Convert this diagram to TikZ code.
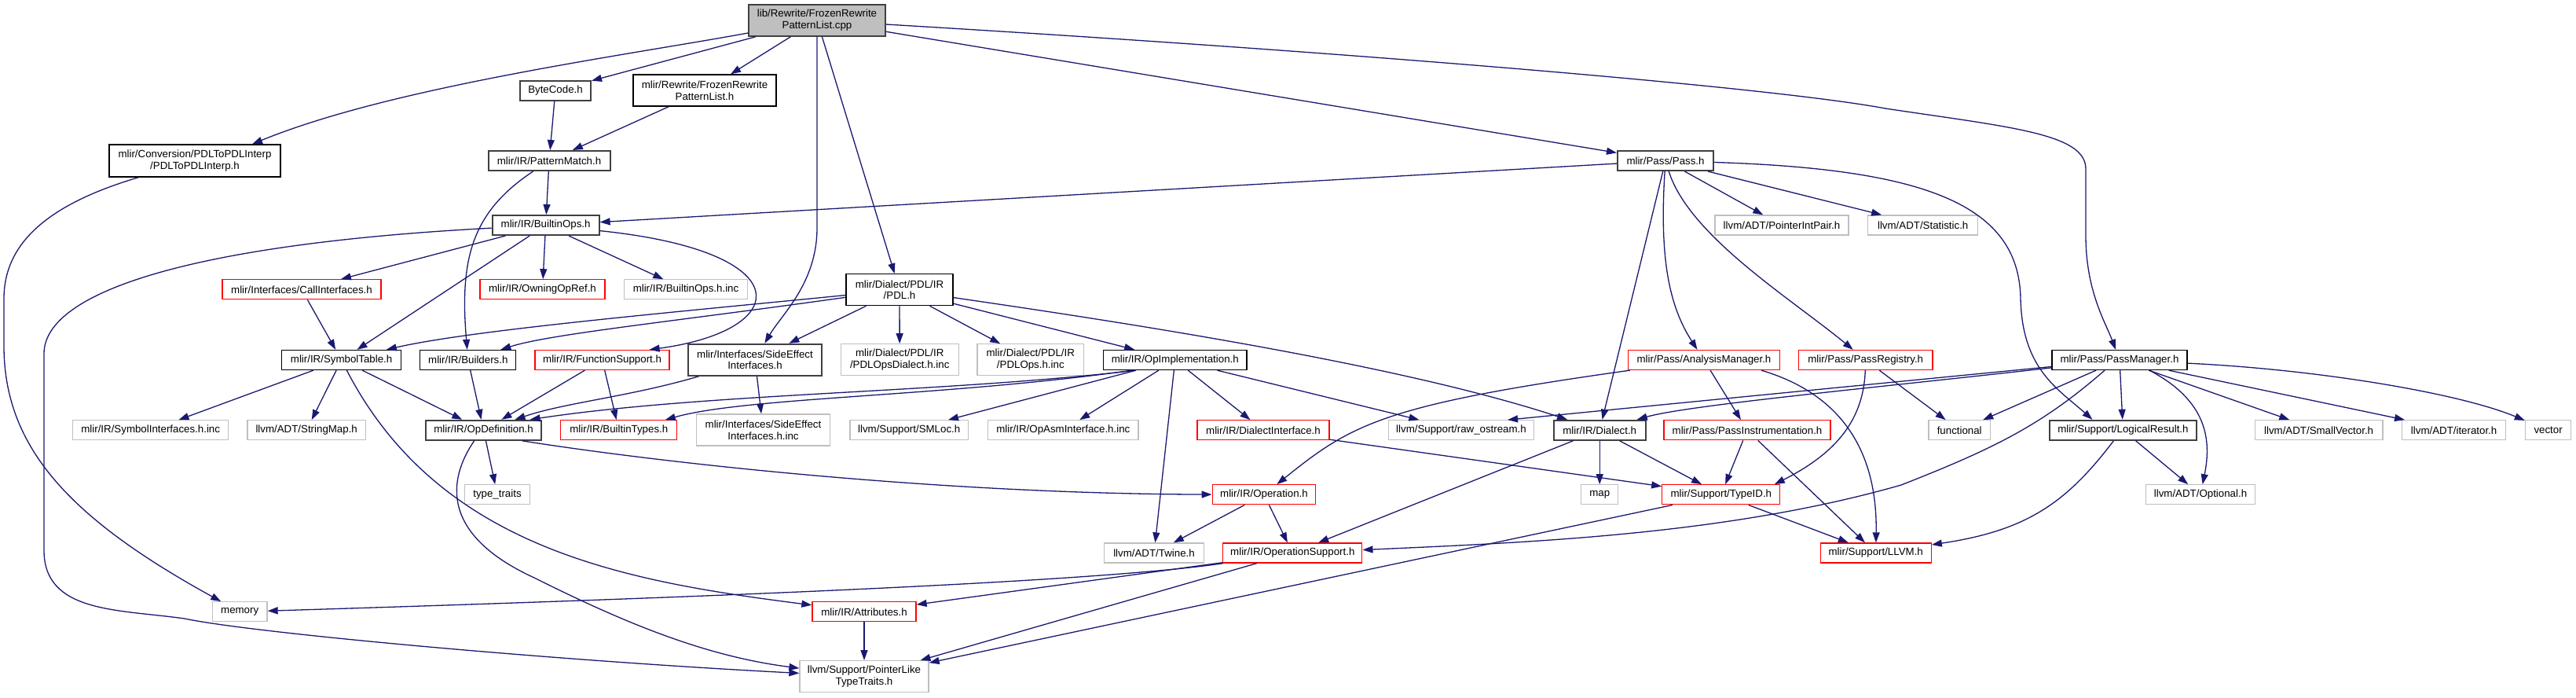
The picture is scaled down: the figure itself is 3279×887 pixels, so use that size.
\documentclass[tikz,border=0pt]{standalone}
\usepackage{fontspec}
\setmainfont{Liberation Sans}
\usetikzlibrary{arrows.meta}
\definecolor{edgec}{HTML}{191970}
\definecolor{gborder}{HTML}{BFBFBF}
\definecolor{rootfill}{HTML}{BFBFBF}
\definecolor{dkb}{HTML}{404040}
\newcommand{\dxfont}{\fontsize{13.3}{14.5}\selectfont}
\tikzset{
  base/.style={draw, rectangle, inner sep=0pt, font=\dxfont, align=center, minimum height=25pt, line width=1.3pt, fill=white, text=black},
  blk/.style={base, draw=black},
  dk/.style={base, draw=dkb, line width=2pt},
  trunc/.style={base, draw=red},
  gry/.style={base, draw=gborder},
  rootn/.style={base, draw=dkb, line width=2pt, fill=rootfill},
  two/.style={minimum height=40pt},
  e/.style={draw=edgec, line width=1.3pt, -{Triangle[length=13pt,width=9pt]}}
}
\begin{document}
\begin{tikzpicture}[x=1pt, y=-1pt]
\useasboundingbox (0,0) rectangle (3279,887);
% nodes
\node[rootn, two, minimum width=174pt] (root) at (1040,25.8) {lib/Rewrite/FrozenRewrite\\PatternList.cpp};
\node[dk, minimum width=90pt] (bytecode) at (707,115) {ByteCode.h};
\node[blk, two, minimum width=182pt] (frozenh) at (897,115) {mlir/Rewrite/FrozenRewrite\\PatternList.h};
\node[blk, minimum height=41pt, minimum width=218pt] (pdlto) at (248,204.5) {mlir/Conversion/PDLToPDLInterp\\/PDLToPDLInterp.h};
\node[dk, minimum width=155pt] (patmatch) at (699,204.5) {mlir/IR/PatternMatch.h};
\node[dk, minimum width=122pt] (pass) at (2120,204.5) {mlir/Pass/Pass.h};
\node[dk, minimum width=136pt] (builtinops) at (694.6,286.5) {mlir/IR/BuiltinOps.h};
\node[gry, minimum width=170pt] (ptrintpair) at (2268,286.5) {llvm/ADT/PointerIntPair.h};
\node[gry, minimum width=140pt] (statistic) at (2447.7,286.5) {llvm/ADT/Statistic.h};
\node[trunc, minimum width=202pt] (callif) at (384,368.3) {mlir/Interfaces/CallInterfaces.h};
\node[trunc, minimum width=159pt] (owning) at (690.5,368.3) {mlir/IR/OwningOpRef.h};
\node[gry, minimum width=157pt] (boinc) at (873,368.3) {mlir/IR/BuiltinOps.h.inc};
\node[blk, two, minimum width=136pt] (pdl) at (1145,368.7) {mlir/Dialect/PDL/IR\\/PDL.h};
\node[blk, minimum width=152pt] (symtab) at (434.6,458) {mlir/IR/SymbolTable.h};
\node[blk, minimum width=122pt] (builders) at (595.8,458) {mlir/IR/Builders.h};
\node[trunc, minimum width=171pt] (funcsupp) at (766.6,458) {mlir/IR/FunctionSupport.h};
\node[dk, two, minimum width=170.5pt] (sideeff) at (961,457.8) {mlir/Interfaces/SideEffect\\Interfaces.h};
\node[gry, two, minimum width=150pt] (pdlopsd) at (1145.2,457.8) {mlir/Dialect/PDL/IR\\/PDLOpsDialect.h.inc};
\node[gry, two, minimum width=135.5pt] (pdlops) at (1311.8,457.8) {mlir/Dialect/PDL/IR\\/PDLOps.h.inc};
\node[blk, minimum width=182.5pt] (opimpl) at (1495.8,458) {mlir/IR/OpImplementation.h};
\node[trunc, minimum width=192.5pt] (analysis) at (2169,458) {mlir/Pass/AnalysisManager.h};
\node[trunc, minimum width=170.7pt] (passreg) at (2374.7,458) {mlir/Pass/PassRegistry.h};
\node[blk, minimum width=172pt] (passmgr) at (2698,458) {mlir/Pass/PassManager.h};
\node[gry, minimum width=198pt] (symif) at (191.7,547.3) {mlir/IR/SymbolInterfaces.h.inc};
\node[gry, minimum width=150.6pt] (strmap) at (390.2,547.3) {llvm/ADT/StringMap.h};
\node[dk, minimum width=147.5pt] (opdef) at (615.6,547.3) {mlir/IR/OpDefinition.h};
\node[trunc, minimum width=148pt] (btypes) at (787.8,547.3) {mlir/IR/BuiltinTypes.h};
\node[gry, two, minimum width=170.5pt] (seinc) at (971.5,547) {mlir/Interfaces/SideEffect\\Interfaces.h.inc};
\node[gry, minimum width=150.5pt] (smloc) at (1157.2,547.3) {llvm/Support/SMLoc.h};
\node[gry, minimum width=191.4pt] (opasm) at (1353.3,547.3) {mlir/IR/OpAsmInterface.h.inc};
\node[trunc, minimum width=168pt] (dialif) at (1608,547.3) {mlir/IR/DialectInterface.h};
\node[gry, minimum width=185pt] (rawos) at (1860,547.3) {llvm/Support/raw\_ostream.h};
\node[dk, minimum width=117pt] (dialect) at (2036.2,547.3) {mlir/IR/Dialect.h};
\node[trunc, minimum width=212pt] (passinst) at (2224,547.3) {mlir/Pass/PassInstrumentation.h};
\node[gry, minimum width=78.4pt] (functional) at (2494.2,547.3) {functional};
\node[dk, minimum width=186.7pt] (logres) at (2702.4,547.3) {mlir/Support/LogicalResult.h};
\node[gry, minimum width=162.5pt] (smallvec) at (2951.6,547.3) {llvm/ADT/SmallVector.h};
\node[gry, minimum width=132.3pt] (iterator) at (3123.6,547.3) {llvm/ADT/iterator.h};
\node[gry, minimum width=58.3pt] (vector) at (3243.6,547.3) {vector};
\node[gry, minimum width=83pt] (typetraits) at (633,629.3) {type\_traits};
\node[trunc, minimum width=131.6pt] (operation) at (1609,629.3) {mlir/IR/Operation.h};
\node[gry, minimum width=47pt] (map) at (2036.2,629.3) {map};
\node[trunc, minimum width=150pt] (typeid) at (2190.8,629.3) {mlir/Support/TypeID.h};
\node[gry, minimum width=139.6pt] (optional) at (2801,629.3) {llvm/ADT/Optional.h};
\node[gry, minimum width=127pt] (twine) at (1469,703.5) {llvm/ADT/Twine.h};
\node[trunc, minimum width=177pt] (opsupport) at (1645.3,703.5) {mlir/IR/OperationSupport.h};
\node[trunc, minimum width=141pt] (llvmh) at (2387.7,703.5) {mlir/Support/LLVM.h};
\node[gry, minimum width=69.6pt] (memory) at (305.2,778.3) {memory};
\node[trunc, minimum width=132pt] (attrs) at (1100,778.3) {mlir/IR/Attributes.h};
\node[gry, two, minimum width=164pt] (ptrlike) at (1100,860.7) {llvm/Support/PointerLike\\TypeTraits.h};
% edges from root
\draw[e] (root) .. controls (800,70) and (500,110) .. ([xshift=73pt]pdlto.north);
\draw[e] (root) -- (bytecode);
\draw[e] (root) -- (frozenh);
\draw[e] (root) -- (1040,290) .. controls (1040,360) and (995,400) .. (sideeff);
\draw[e] (root) -- (pdl);
\draw[e] (root) -- (pass);
\draw[e] (root) .. controls (1700,65) and (2250,110) .. (2400,138) .. controls (2560,162) and (2655,170) .. (2655,215) -- (2655,300) .. controls (2655,370) and (2680,410) .. (passmgr);
% pass
\draw[e] (pass) -- (builtinops);
\draw[e] (pass) -- (dialect);
\draw[e] (pass) .. controls (2112,330) and (2125,390) .. (analysis);
\draw[e] (pass) .. controls (2150,300) and (2280,380) .. (passreg);
\draw[e] (pass) -- (ptrintpair);
\draw[e] (pass) -- (statistic);
\draw[e] (pass) .. controls (2450,215) and (2570,260) .. (2572,380) .. controls (2574,470) and (2620,495) .. ([xshift=-39pt]logres.north);
% builtinops
\draw[e] (builtinops) -- (callif);
\draw[e] (builtinops) -- (symtab);
\draw[e] (builtinops) -- (owning);
\draw[e] (builtinops) -- (boinc);
\draw[e] (builtinops) .. controls (250,310) and (56,370) .. (56,450) -- (56,700) .. controls (56,780) and (150,775) .. (235,787) .. controls (320,805) and (700,840) .. (ptrlike);
\draw[e] (builtinops) .. controls (1020,320) and (1010,420) .. ([xshift=60pt]funcsupp.north);
% patternmatch etc.
\draw[e] (patmatch) -- (builtinops);
\draw[e] (patmatch) .. controls (600,270) and (585,330) .. (builders);
\draw[e] (bytecode) -- (patmatch);
\draw[e] (frozenh) -- (patmatch);
\draw[e] (pdlto) .. controls (60,260) and (5,310) .. (5,380) -- (5,440) .. controls (5,570) and (90,660) .. (memory);
% pdl
\draw[e] (pdl) -- (sideeff);
\draw[e] (pdl) -- (pdlopsd);
\draw[e] (pdl) -- (pdlops);
\draw[e] (pdl) -- (opimpl);
\draw[e] (pdl) .. controls (1500,420) and (1800,470) .. (dialect);
\draw[e] (pdl) .. controls (850,398) and (600,420) .. (symtab);
\draw[e] (pdl) .. controls (850,410) and (700,425) .. (builders);
% sideeffect
\draw[e] (sideeff) .. controls (800,505) and (720,512) .. (opdef);
\draw[e] (sideeff) -- (seinc);
% opimpl
\draw[e] ([xshift=-50pt]opimpl.south) .. controls (1200,500) and (900,500) .. ([xshift=59pt]opdef.north);
\draw[e] ([xshift=-55pt]opimpl.south) .. controls (1200,505) and (950,505) .. ([xshift=59pt]btypes.north);
\draw[e] (opimpl) -- (smloc);
\draw[e] (opimpl) -- (opasm);
\draw[e] (opimpl) -- (dialif);
\draw[e] (opimpl) -- (twine);
\draw[e] (opimpl) -- (rawos);
% funcsupport, symtab, builders, callif
\draw[e] (funcsupp) -- (opdef);
\draw[e] (funcsupp) -- (btypes);
\draw[e] (symtab) -- (symif);
\draw[e] (symtab) -- (strmap);
\draw[e] (symtab) -- (opdef);
\draw[e] (symtab) .. controls (560,700) and (800,740) .. (attrs);
\draw[e] (builders) -- (opdef);
\draw[e] (callif) -- (symtab);
% opdefinition
\draw[e] (opdef) -- (typetraits);
\draw[e] ([xshift=49pt]opdef.south) .. controls (850,590) and (1200,628) .. (operation);
\draw[e] ([xshift=-12pt]opdef.south) .. controls (570,610) and (560,680) .. (680,735) .. controls (800,795) and (900,835) .. (ptrlike);
% dialect
\draw[e] (dialect) -- (opsupport);
\draw[e] (dialect) -- (map);
\draw[e] (dialect) -- (typeid);
% analysis, instrumentation, registry
\draw[e] (analysis) .. controls (1760,515) and (1720,540) .. (operation);
\draw[e] (analysis) -- (passinst);
\draw[e] ([xshift=73pt]analysis.south) .. controls (2340,500) and (2390,570) .. (llvmh);
\draw[e] (passinst) -- (typeid);
\draw[e] (passinst) -- (llvmh);
\draw[e] (passreg) .. controls (2372,540) and (2330,580) .. ([xshift=68pt]typeid.north);
\draw[e] (passreg) -- (functional);
% typeid, dialectinterface, operation
\draw[e] (typeid) -- (llvmh);
\draw[e] (typeid) -- (ptrlike);
\draw[e] (dialif) -- (typeid);
\draw[e] (operation) -- (twine);
\draw[e] (operation) -- (opsupport);
% operationsupport, attributes
\draw[e] (opsupport) .. controls (1400,740) and (900,760) .. (memory);
\draw[e] (opsupport) -- (attrs);
\draw[e] (opsupport) -- (ptrlike);
\draw[e] (attrs) -- (ptrlike);
% passmanager
\draw[e] (passmgr) -- ([xshift=59pt]rawos.north);
\draw[e] (passmgr) .. controls (2400,492) and (2150,515) .. (dialect);
\draw[e] (passmgr) -- (functional);
\draw[e] ([xshift=-19pt]passmgr.south) .. controls (2600,540) and (2540,570) .. (2420,617) .. controls (2200,680) and (1950,690) .. (opsupport);
\draw[e] (passmgr) -- (logres);
\draw[e] ([xshift=38pt]passmgr.south) .. controls (2810,510) and (2815,560) .. (optional);
\draw[e] (passmgr) -- (smallvec);
\draw[e] (passmgr) -- (iterator);
\draw[e] (passmgr) .. controls (2950,470) and (3130,500) .. (vector);
% logicalresult
\draw[e] ([xshift=-12pt]logres.south) .. controls (2630,640) and (2580,675) .. (llvmh);
\draw[e] (logres) -- (optional);
\end{tikzpicture}
\end{document}
